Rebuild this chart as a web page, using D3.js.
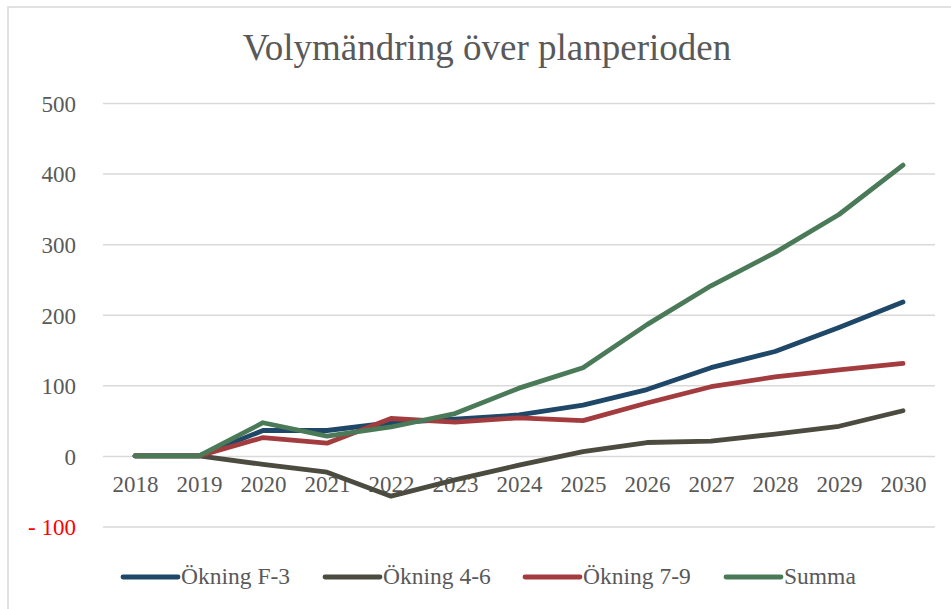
<!DOCTYPE html>
<html lang="sv">
<head>
<meta charset="UTF-8">
<title>Volymändring över planperioden</title>
<style>
  body { margin: 0; background: #fff; }
  svg, svg text { font-family: "Liberation Serif", "Times New Roman", serif; }
  svg { display: block; }
  .axis text { fill: #595959; font-size: 23px; }
  .axis .domain { display: none; }
</style>
</head>
<body>
<div id="chart"></div>
<script src="https://cdnjs.cloudflare.com/ajax/libs/d3/7.8.5/d3.min.js"></script>
<script>
// data
const years = ['2018','2019','2020','2021','2022','2023','2024','2025','2026','2027','2028','2029','2030'];
const okningF3  = [0, 0, 36, 36, 47, 52, 58, 72, 94, 125, 148, 182, 218];
const okning46  = [0, 0, -12, -23, -57, -34, -13, 6, 19, 21, 31, 42, 64];
const okning79  = [0, 0, 26, 18, 53, 48, 54, 50, 75, 98, 112, 122, 131];
const summa     = [0, 0, 47, 28, 41, 60, 96, 125, 186, 241, 288, 342, 412];
const yTicks = [-100, 0, 100, 200, 300, 400, 500];

const series = [
  { name: 'Ökning F-3', values: okningF3, color: '#1f4868' },
  { name: 'Ökning 4-6', values: okning46, color: '#4b4b40' },
  { name: 'Ökning 7-9', values: okning79, color: '#a33c3e' },
  { name: 'Summa',      values: summa,    color: '#4a7a58' }
];

const width = 951, height = 609;
const plotLeft = 103, plotRight = 935, plotTop = 103, plotBottom = 526.5;

const svg = d3.select('#chart').append('svg')
  .attr('width', width)
  .attr('height', height);

// chart frame
svg.append('rect')
  .attr('x', 8).attr('y', 7)
  .attr('width', width + 10).attr('height', height + 10)
  .attr('fill', 'none')
  .attr('stroke', '#d9d9d9')
  .attr('stroke-width', 1.5);

// title
svg.append('text')
  .attr('x', 487).attr('y', 60)
  .attr('text-anchor', 'middle')
  .attr('fill', '#595959')
  .style('font-size', '37px')
  .text('Volymändring över planperioden');

const x = d3.scalePoint().domain(years).range([plotLeft, plotRight]).padding(0.5);
const y = d3.scaleLinear().domain([-100, 500]).range([plotBottom, plotTop]);

// y axis + gridlines
const yAxis = svg.append('g')
  .attr('class', 'axis')
  .attr('transform', `translate(${plotLeft},0)`)
  .call(d3.axisLeft(y)
    .tickValues(yTicks)
    .tickSize(-(plotRight - plotLeft))
    .tickPadding(27)
    .tickFormat(d => d < 0 ? '- ' + Math.abs(d) : d));
yAxis.selectAll('line').attr('stroke', '#d9d9d9').attr('stroke-width', 1.5);
yAxis.selectAll('text')
  .attr('dy', '0.36em')
  .style('fill', d => d < 0 ? '#ff0000' : '#595959');

// x axis labels (sits on the zero line)
svg.append('g')
  .attr('class', 'axis')
  .attr('transform', `translate(0,${y(0)})`)
  .call(d3.axisBottom(x).tickSize(0).tickPadding(20));

// lines
const line = d3.line()
  .x((d, i) => x(years[i]))
  .y(d => y(d));

svg.append('g').selectAll('path')
  .data(series)
  .join('path')
  .attr('d', d => line(d.values))
  .attr('fill', 'none')
  .attr('stroke', d => d.color)
  .attr('stroke-width', 4.8)
  .attr('stroke-linecap', 'round')
  .attr('stroke-linejoin', 'round');

// legend
const legendX = [123, 325, 525, 726];
const legend = svg.append('g').selectAll('g')
  .data(series)
  .join('g')
  .attr('transform', (d, i) => `translate(${legendX[i]},577)`);
legend.append('line')
  .attr('x1', 0).attr('x2', 55)
  .attr('stroke', d => d.color)
  .attr('stroke-width', 4.8)
  .attr('stroke-linecap', 'round');
legend.append('text')
  .attr('x', 58).attr('y', 7)
  .attr('fill', '#595959')
  .style('font-size', '23.5px')
  .text(d => d.name);
</script>
</body>
</html>
